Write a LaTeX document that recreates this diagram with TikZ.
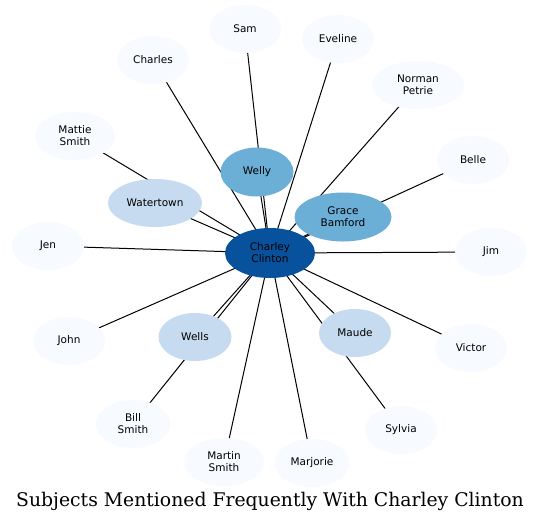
\documentclass[tikz,border=0pt]{standalone}
\usepackage{fontspec}
\setmainfont{DejaVu Sans}
\newfontfamily\titlefont{DejaVu Serif}
\usetikzlibrary{backgrounds,shapes.geometric}
\definecolor{cdark}{HTML}{08519C}
\definecolor{cmid}{HTML}{6BAED6}
\definecolor{clight}{HTML}{C6DBEF}
\definecolor{cpale}{HTML}{F7FBFF}
\tikzset{
  person/.style={ellipse, draw=none, inner sep=0pt, align=center, font=\fontsize{10.5}{12}\selectfont},
  pale/.style={person, fill=cpale},
  link/.style={draw=black, line width=1pt}
}
\begin{document}
\begin{tikzpicture}[x=1pt,y=-1pt]
\useasboundingbox (0,0) rectangle (540,523);
\node[person, fill=cdark, minimum width=90, minimum height=50] (c) at (270,253) {Charley\\Clinton};
\node[person, fill=cmid, minimum width=73, minimum height=49] (welly) at (257,172) {Welly};
\node[person, fill=cmid, minimum width=97, minimum height=49] (grace) at (343,217) {Grace\\Bamford};
\node[person, fill=clight, minimum width=94, minimum height=48] (water) at (155,203) {Watertown};
\node[person, fill=clight, minimum width=73, minimum height=48] (wells) at (195,337) {Wells};
\node[person, fill=clight, minimum width=72, minimum height=48] (maude) at (355,333) {Maude};
\node[pale, minimum width=72, minimum height=48] (sam) at (245,29) {Sam};
\node[pale, minimum width=72, minimum height=48] (eveline) at (338,39) {Eveline};
\node[pale, minimum width=72, minimum height=48] (charles) at (153,60) {Charles};
\node[pale, minimum width=92, minimum height=48] (norman) at (418,85) {Norman\\Petrie};
\node[pale, minimum width=80, minimum height=48] (mattie) at (75,136) {Mattie\\Smith};
\node[pale, minimum width=72, minimum height=48] (belle) at (473,160) {Belle};
\node[pale, minimum width=72, minimum height=48] (jen) at (48,246) {Jen};
\node[pale, minimum width=72, minimum height=48] (jim) at (491,252) {Jim};
\node[pale, minimum width=72, minimum height=48] (john) at (69,341) {John};
\node[pale, minimum width=72, minimum height=48] (victor) at (471,348) {Victor};
\node[pale, minimum width=74, minimum height=48] (bill) at (133,424) {Bill\\Smith};
\node[pale, minimum width=72, minimum height=48] (sylvia) at (401,430) {Sylvia};
\node[pale, minimum width=80, minimum height=48] (martin) at (224,462) {Martin\\Smith};
\node[pale, minimum width=75, minimum height=48] (marjorie) at (312,463) {Marjorie};
\begin{pgfonlayer}{background}
\fill[white] (0,0) rectangle (540,523);
\foreach \n in {welly,grace,water,wells,maude,sam,eveline,charles,norman,mattie,belle,jen,jim,john,victor,bill,sylvia,martin,marjorie}
  \draw[link] (c.center) -- (\n.center);
\end{pgfonlayer}
\node[inner sep=0pt, font=\titlefont\fontsize{18.8}{20}\selectfont] (title) at (270,501) {Subjects Mentioned Frequently With Charley Clinton};
\end{tikzpicture}
\end{document}
